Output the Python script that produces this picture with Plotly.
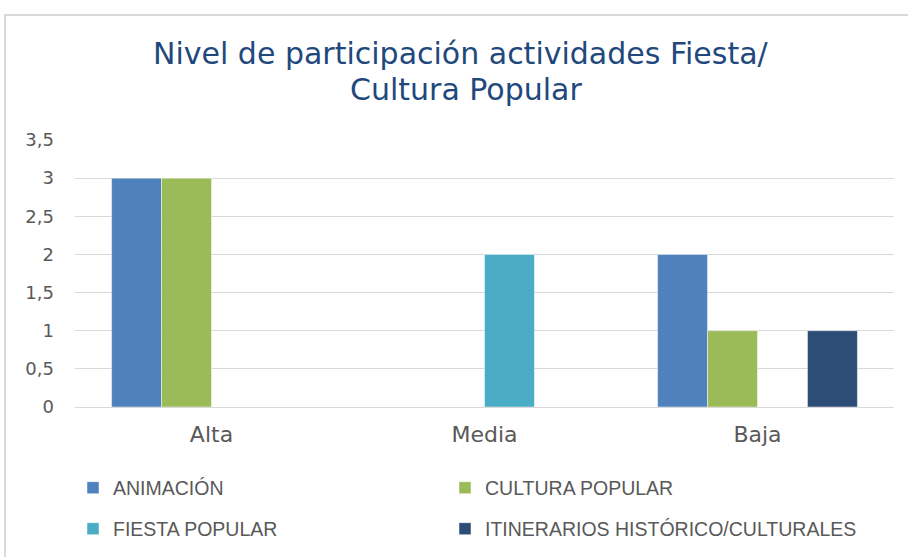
import plotly.graph_objects as go

categories = ["Alta", "Media", "Baja"]
animacion = [3, 0, 2]
cultura_popular = [3, 0, 1]
fiesta_popular = [0, 2, 0]
itinerarios = [0, 0, 1]

series_names = ["ANIMACIÓN", "CULTURA POPULAR", "FIESTA POPULAR", "ITINERARIOS HISTÓRICO/CULTURALES"]
series_values = [animacion, cultura_popular, fiesta_popular, itinerarios]
colors = ["#4F81BD", "#9BBB59", "#4BACC6", "#2C4D75"]
legend_ids = ["legend", "legend2", "legend3", "legend4"]

W, H = 908, 557
L, R, T, B = 75, 14, 140, 150
pw, ph = W - L - R, H - T - B

def px_x(x):
    return (x - L) / pw

def px_y(y):
    return (H - B - y) / ph

fig = go.Figure()
for name, vals, col, lg in zip(series_names, series_values, colors, legend_ids):
    fig.add_trace(go.Bar(
        x=categories, y=vals, name=name,
        marker=dict(color=col, line=dict(color="rgba(255,255,255,0.6)", width=0.8)),
        legend=lg,
    ))

xtick_font = dict(family="DejaVu Sans, sans-serif", size=22, color="#595959")
ytick_font = dict(family="DejaVu Sans, sans-serif", size=18, color="#595959")
legend_font = dict(family="Liberation Sans, Arial, sans-serif", size=19.5, color="#595959")
title_font = dict(family="DejaVu Sans, sans-serif", size=30, color="#1F497D")

def legend_box(xp, yp):
    return dict(orientation="h", x=px_x(xp), xanchor="left", y=px_y(yp), yanchor="middle",
                font=legend_font, bgcolor="rgba(0,0,0,0)", itemclick=False, itemdoubleclick=False)

fig.update_layout(
    width=W, height=H,
    margin=dict(l=L, r=R, t=T, b=B, autoexpand=False),
    paper_bgcolor="white", plot_bgcolor="white",
    barmode="group", bargap=0.268, bargroupgap=0,
    separators=",.",
    showlegend=True,
    legend=legend_box(73, 488),
    legend2=legend_box(445, 488),
    legend3=legend_box(73, 529),
    legend4=legend_box(445, 529),
    xaxis=dict(showgrid=False, showline=True, linecolor="#D9D9D9", linewidth=1,
               ticks="", tickfont=xtick_font, ticklabelstandoff=8, fixedrange=True),
    yaxis=dict(range=[0, 3.5], dtick=0.5, showgrid=True, gridcolor="#D9D9D9", gridwidth=1,
               zeroline=False, showline=False, ticks="", tickfont=ytick_font,
               ticklabelstandoff=20, fixedrange=True),
    annotations=[
        dict(text="Nivel de participación actividades Fiesta/", xref="paper", yref="paper",
             x=px_x(461), y=px_y(53), xanchor="center", yanchor="middle",
             showarrow=False, font=title_font),
        dict(text="Cultura Popular", xref="paper", yref="paper",
             x=px_x(466), y=px_y(89), xanchor="center", yanchor="middle",
             showarrow=False, font=title_font),
    ],
    shapes=[
        dict(type="rect", xref="paper", yref="paper",
             x0=px_x(5), x1=px_x(930), y0=px_y(580), y1=px_y(15),
             line=dict(color="#D9D9D9", width=2), fillcolor="rgba(0,0,0,0)", layer="below"),
    ],
)

fig.write_html("out.html", config={"displayModeBar": False},
               post_script="document.body.style.margin='0';")
